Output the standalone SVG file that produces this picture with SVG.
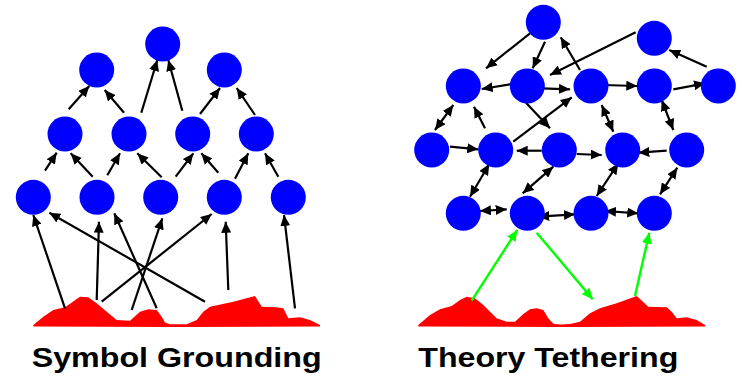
<svg xmlns="http://www.w3.org/2000/svg" width="742" height="378" viewBox="0 0 742 378">
<style>
.n{fill:#0000ff}
.a{stroke:#000;stroke-width:2.2;fill:none;marker-end:url(#ah)}
.d{stroke:#000;stroke-width:2.2;fill:none;marker-end:url(#ah);marker-start:url(#ahs)}
.g{stroke:#00ff00;stroke-width:2.4;fill:none;marker-end:url(#gh)}
.gr{fill:#ff0000}
.t{font-family:"Liberation Sans",Arial,sans-serif;font-weight:bold;font-size:28px;fill:#000}
</style>
<defs>
<marker id="ah" markerUnits="userSpaceOnUse" markerWidth="12" markerHeight="10" refX="11" refY="5" orient="auto"><path d="M0,0 L11,5 L0,10 z" fill="#000"/></marker>
<marker id="ahs" markerUnits="userSpaceOnUse" markerWidth="12" markerHeight="10" refX="11" refY="5" orient="auto-start-reverse"><path d="M0,0 L11,5 L0,10 z" fill="#000"/></marker>
<marker id="gh" markerUnits="userSpaceOnUse" markerWidth="12" markerHeight="10" refX="11" refY="5" orient="auto"><path d="M0,0 L11,5 L0,10 z" fill="#00ff00"/></marker>
</defs>
<rect width="742" height="378" fill="#fff"/>
<path class="gr" d="M33.3,325 L43.3,316.7 L53.3,310 L65,307.3 L80,296.7 L88.3,297.3 L96.7,303.3 L106.7,311.7 L116.7,320 L130,320.7 L140,311.7 L148.3,309.3 L156.7,310 L161.7,316.7 L165,322.5 L170,324.3 L186.7,324.3 L196.7,320 L203.3,311.7 L210,306.7 L233.3,301.7 L255,296 L261.7,306.7 L276.7,307.3 L283.3,308.3 L288.3,318.3 L300,317.3 L310,320 L320,325 L320,326.5 L186,327 L170,327 L33.3,326.5 Z"/>
<path class="gr" d="M418.3,325 L430,315 L440,309.3 L451.7,306 L460,300 L466.7,296.7 L475,298.3 L483.3,305 L496.7,318.3 L506.7,321.7 L515,321.7 L523.3,314 L530,309.3 L536.7,308.3 L543.3,310 L548.3,318.3 L553.3,323.8 L560,324.5 L570,324 L580,321.7 L590,313.3 L600,308.3 L616.7,303.3 L636.7,296 L648.3,306.7 L666.7,307.3 L671.7,311.7 L676.7,318.3 L686.7,317.3 L696.7,320 L705,325 L705,326.5 L570,327 L555,327 L418.3,326.5 Z"/>
<g id="connectors">
<line class="a" x1="68.7" y1="109.3" x2="89.3" y2="86"/>
<line class="a" x1="124" y1="112.7" x2="104.7" y2="90"/>
<line class="a" x1="141.3" y1="112.7" x2="157.3" y2="60"/>
<line class="a" x1="182.3" y1="110.7" x2="168.3" y2="60"/>
<line class="a" x1="200" y1="114" x2="220" y2="88"/>
<line class="a" x1="255" y1="115" x2="236.7" y2="88"/>
<line class="a" x1="45" y1="170.7" x2="56.7" y2="152.7"/>
<line class="a" x1="92.7" y1="176.7" x2="70.7" y2="153.3"/>
<line class="a" x1="107.3" y1="175.3" x2="120" y2="153.3"/>
<line class="a" x1="161.7" y1="177.3" x2="137.3" y2="153.3"/>
<line class="a" x1="175.7" y1="176.7" x2="193.3" y2="153.3"/>
<line class="a" x1="218.3" y1="172.7" x2="201.3" y2="153.3"/>
<line class="a" x1="235" y1="178.7" x2="248.3" y2="153.3"/>
<line class="a" x1="278.3" y1="176.7" x2="265" y2="153.3"/>
<line class="a" x1="65" y1="308.3" x2="33.3" y2="215"/>
<line class="a" x1="96.7" y1="300" x2="99" y2="221.7"/>
<line class="a" x1="101.7" y1="301.7" x2="211.7" y2="214"/>
<line class="a" x1="131.7" y1="310" x2="162.3" y2="218.3"/>
<line class="a" x1="156.7" y1="308.3" x2="114.3" y2="213.3"/>
<line class="a" x1="205" y1="301.7" x2="49.3" y2="212.7"/>
<line class="a" x1="228.3" y1="290" x2="225.7" y2="221.7"/>
<line class="a" x1="295" y1="308.3" x2="284" y2="215"/>
<line class="a" x1="530" y1="33.3" x2="486" y2="68.3"/>
<line class="a" x1="545" y1="41.7" x2="532.7" y2="68.3"/>
<line class="a" x1="580" y1="70" x2="560.7" y2="37.3"/>
<line class="a" x1="635.7" y1="32.3" x2="550" y2="75"/>
<line class="a" x1="706.7" y1="66.7" x2="669.3" y2="50"/>
<line class="a" x1="511.7" y1="84" x2="481.7" y2="89"/>
<line class="a" x1="541.7" y1="88.3" x2="570" y2="89.3"/>
<line class="a" x1="602.7" y1="85" x2="637.3" y2="86"/>
<line class="a" x1="673.3" y1="89.3" x2="705" y2="83.3"/>
<line class="d" x1="435" y1="130" x2="453.3" y2="105"/>
<line class="a" x1="485" y1="128.3" x2="474" y2="106.7"/>
<line class="a" x1="526" y1="102.7" x2="550" y2="128.3"/>
<line class="a" x1="513.3" y1="141.7" x2="571.7" y2="97.3"/>
<line class="d" x1="601.7" y1="105" x2="613.3" y2="131.7"/>
<line class="d" x1="661.7" y1="100" x2="673.3" y2="130"/>
<line class="a" x1="450" y1="146.7" x2="478.3" y2="149.3"/>
<line class="a" x1="541.7" y1="150.7" x2="516.7" y2="150.7"/>
<line class="a" x1="576.7" y1="154" x2="601.7" y2="155"/>
<line class="a" x1="666.7" y1="150.7" x2="638.3" y2="152.7"/>
<line class="d" x1="489.3" y1="164" x2="470" y2="196.7"/>
<line class="d" x1="553.3" y1="166.7" x2="522.7" y2="193.3"/>
<line class="d" x1="618.3" y1="163.3" x2="596.7" y2="196"/>
<line class="d" x1="677.3" y1="167.7" x2="660" y2="194.3"/>
<line class="d" x1="480" y1="211" x2="506.7" y2="209.3"/>
<line class="d" x1="538.3" y1="216.7" x2="575" y2="214.3"/>
<line class="d" x1="605" y1="211" x2="638.3" y2="213.3"/>
<line class="g" x1="471.7" y1="300.7" x2="517.3" y2="230"/>
<line class="g" x1="536.7" y1="232.7" x2="592.7" y2="299.3"/>
<line class="g" x1="635" y1="296" x2="649.3" y2="232.7"/>
</g>
<g id="sg-top"><circle class="n" cx="162.7" cy="44" r="17.5"/></g>
<g id="sg-r2a"><circle class="n" cx="96.7" cy="70" r="17.5"/></g>
<g id="sg-r2b"><circle class="n" cx="224.3" cy="70" r="17.5"/></g>
<g id="sg-r3a"><circle class="n" cx="65" cy="134" r="17.5"/></g>
<g id="sg-r3b"><circle class="n" cx="129" cy="134" r="17.5"/></g>
<g id="sg-r3c"><circle class="n" cx="192.7" cy="134" r="17.5"/></g>
<g id="sg-r3d"><circle class="n" cx="256.3" cy="134" r="17.5"/></g>
<g id="sg-r4a"><circle class="n" cx="33.3" cy="197.3" r="17.5"/></g>
<g id="sg-r4b"><circle class="n" cx="97" cy="197.3" r="17.5"/></g>
<g id="sg-r4c"><circle class="n" cx="160.7" cy="197.3" r="17.5"/></g>
<g id="sg-r4d"><circle class="n" cx="224.3" cy="197.3" r="17.5"/></g>
<g id="sg-r4e"><circle class="n" cx="288.3" cy="197.3" r="17.5"/></g>
<g id="tt-a"><circle class="n" cx="543.3" cy="22.3" r="17.5"/></g>
<g id="tt-b"><circle class="n" cx="654.3" cy="38.3" r="17.5"/></g>
<g id="tt-c"><circle class="n" cx="463.3" cy="86" r="17.5"/></g>
<g id="tt-d"><circle class="n" cx="527.3" cy="86" r="17.5"/></g>
<g id="tt-e"><circle class="n" cx="591" cy="86" r="17.5"/></g>
<g id="tt-f"><circle class="n" cx="654.3" cy="86" r="17.5"/></g>
<g id="tt-g"><circle class="n" cx="718.3" cy="86" r="17.5"/></g>
<g id="tt-h"><circle class="n" cx="431.7" cy="150" r="17.5"/></g>
<g id="tt-i"><circle class="n" cx="495.7" cy="150" r="17.5"/></g>
<g id="tt-j"><circle class="n" cx="559.3" cy="150" r="17.5"/></g>
<g id="tt-k"><circle class="n" cx="622.7" cy="150" r="17.5"/></g>
<g id="tt-l"><circle class="n" cx="686.7" cy="150" r="17.5"/></g>
<g id="tt-m"><circle class="n" cx="463.3" cy="213.3" r="17.5"/></g>
<g id="tt-n"><circle class="n" cx="527.3" cy="213.3" r="17.5"/></g>
<g id="tt-o"><circle class="n" cx="591" cy="213.3" r="17.5"/></g>
<g id="tt-p"><circle class="n" cx="654.3" cy="213.3" r="17.5"/></g>
<text class="t" x="31.7" y="366.7" textLength="290" lengthAdjust="spacingAndGlyphs">Symbol Grounding</text>
<text class="t" x="418.3" y="366.7" textLength="260" lengthAdjust="spacingAndGlyphs">Theory Tethering</text>
</svg>
